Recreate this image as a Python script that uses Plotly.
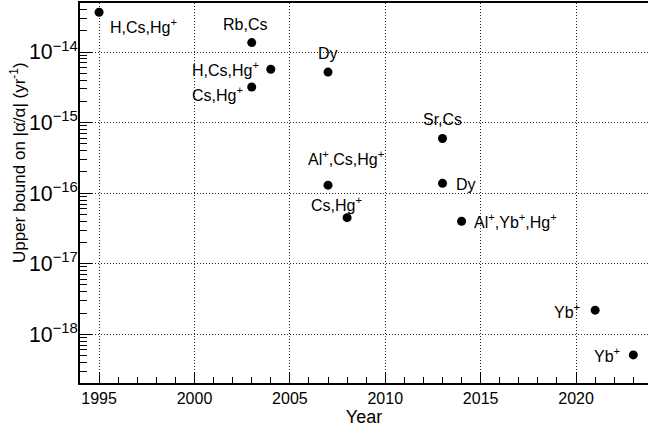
import math
import plotly.graph_objects as go

years = [1995, 2003, 2004, 2003, 2007, 2013, 2007, 2013, 2008, 2014, 2021, 2023]
bounds = [3.66e-14, 1.36e-14, 5.7e-15, 3.2e-15, 5.2e-15, 5.95e-16, 1.3e-16, 1.38e-16,
          4.5e-17, 4.0e-17, 2.2e-18, 5.1e-19]
labels = ["H,Cs,Hg<sup>+</sup>", "Rb,Cs", "H,Cs,Hg<sup>+</sup>", "Cs,Hg<sup>+</sup>", "Dy",
          "Sr,Cs", "Al<sup>+</sup>,Cs,Hg<sup>+</sup>", "Dy", "Cs,Hg<sup>+</sup>",
          "Al<sup>+</sup>,Yb<sup>+</sup>,Hg<sup>+</sup>", "Yb<sup>+</sup>", "Yb<sup>+</sup>"]
x_ticks = [1995, 2000, 2005, 2010, 2015, 2020]

# label placement (anchor, xshift, yshift) in pixels
label_pos = [("left", 9, -14), ("center", -7, 18), ("right", -10, 0), ("right", -7, -7),
             ("center", 0, 19), ("center", 0, 19), ("center", 18, 27), ("left", 11, -1),
             ("center", -11, 14), ("left", 10, 0), ("right", -13, -1), ("right", -11, 0)]

FONT = "Liberation Sans, Arial, Helvetica, sans-serif"

fig = go.Figure()
fig.add_trace(go.Scatter(x=years, y=bounds, mode="markers",
                         marker=dict(color="black", size=9), showlegend=False))

for xv, yv, txt, (anc, xs, ys) in zip(years, bounds, labels, label_pos):
    fig.add_annotation(x=xv, y=math.log10(yv), xref="x", yref="y", text=txt, showarrow=False,
                       xanchor=anc, yanchor="middle", xshift=xs, yshift=ys,
                       font=dict(family=FONT, size=16, color="black"))

fig.add_annotation(x=-0.109, y=0.579, xref="paper", yref="paper",
                   text="Upper bound on |\u03b1\u0307/\u03b1| (yr<sup>-1</sup>)",
                   textangle=-90, showarrow=False, xanchor="center", yanchor="middle",
                   font=dict(family=FONT, size=17, color="black"))

GRID_DASH = "1px,2px"

fig.update_layout(
    width=648, height=433,
    margin=dict(l=80, r=0, t=3, b=50),
    paper_bgcolor="white", plot_bgcolor="white",
    font=dict(family=FONT, size=16, color="black"),
    xaxis=dict(range=[1994, 2023.77], tickvals=x_ticks, ticks="inside", ticklen=11,
               tickcolor="black", showline=True, linecolor="black", linewidth=1.5,
               mirror=True, showgrid=True, gridcolor="#222", griddash=GRID_DASH, gridwidth=1,
               zeroline=False, tickfont=dict(size=16),
               minor=dict(dtick=1, ticks="inside", ticklen=6, tickcolor="black", showgrid=False),
               title=dict(text="Year", font=dict(size=18), standoff=0)),
    yaxis=dict(type="log", range=[-18.69, -13.305], dtick=1, exponentformat="power",
               showexponent="all", ticks="inside", ticklen=12, tickcolor="black",
               ticklabelstandoff=-3,
               showline=True, linecolor="black", linewidth=1.5, mirror=False,
               showgrid=True, gridcolor="#222", griddash=GRID_DASH, gridwidth=1,
               zeroline=False, tickfont=dict(size=17),
               minor=dict(dtick="D1", ticks="inside", ticklen=7, tickcolor="black", showgrid=False)),
)

fig.write_html("out.html")
